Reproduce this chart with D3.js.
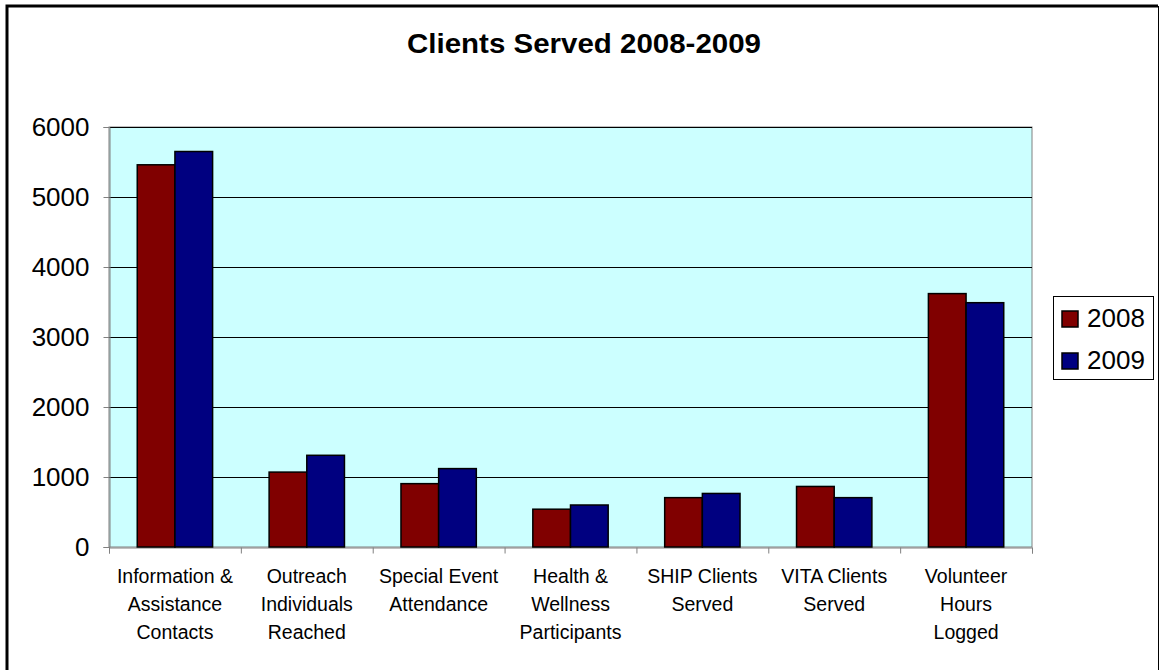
<!DOCTYPE html>
<html>
<head>
<meta charset="utf-8">
<script src="https://cdn.jsdelivr.net/npm/d3@7"></script>
<style>
    body { margin: 0; background: #fff; }
    svg { font-family: "Liberation Sans", Arial, sans-serif; }
</style>
</head>
<body>
<div id="chart"></div>
<script>
// data
const categories = [
    ["Information &", "Assistance", "Contacts"],
    ["Outreach", "Individuals", "Reached"],
    ["Special Event", "Attendance"],
    ["Health &", "Wellness", "Participants"],
    ["SHIP Clients", "Served"],
    ["VITA Clients", "Served"],
    ["Volunteer", "Hours", "Logged"]
];
const series = ["2008", "2009"];
const values2008 = [5460, 1070, 905, 540, 705, 865, 3620];
const values2009 = [5650, 1310, 1120, 600, 765, 705, 3490];
const yTicks = [0, 1000, 2000, 3000, 4000, 5000, 6000];

const colors = {"2008": "#800000", "2009": "#000080"};

const width = 1160, height = 670;
const plot = {left: 109, right: 1032, top: 127, bottom: 547};

const svg = d3.select("#chart").append("svg")
    .attr("width", width)
    .attr("height", height);

// outer frame
svg.append("path")
    .attr("d", "M7,672 L7,6 L1158,6")
    .attr("fill", "none")
    .attr("stroke", "#000")
    .attr("stroke-width", 3);
svg.append("path")
    .attr("d", "M1158.5,6 L1158.5,672")
    .attr("fill", "none")
    .attr("stroke", "#000")
    .attr("stroke-width", 1);

// title
svg.append("text")
    .attr("x", 584)
    .attr("y", 53)
    .attr("text-anchor", "middle")
    .attr("font-size", 27)
    .attr("font-weight", "bold")
    .attr("textLength", 354)
    .attr("lengthAdjust", "spacingAndGlyphs")
    .text("Clients Served 2008-2009");

// scales
const x0 = d3.scaleBand()
    .domain(d3.range(categories.length))
    .range([plot.left, plot.right])
    .padding(0);

const x1 = d3.scaleBand()
    .domain(series)
    .range([0, x0.bandwidth()])
    .paddingInner(0)
    .paddingOuter(0.75);

const y = d3.scaleLinear()
    .domain([0, 6000])
    .range([plot.bottom, plot.top]);

const xEdge = d3.scaleLinear()
    .domain([0, categories.length])
    .range([plot.left, plot.right]);

// plot background
svg.append("rect")
    .attr("x", plot.left)
    .attr("y", plot.top)
    .attr("width", plot.right - plot.left)
    .attr("height", plot.bottom - plot.top)
    .attr("fill", "#CCFFFF")
    .attr("stroke", "#808080")
    .attr("stroke-width", 1);

// gridlines
svg.append("g")
    .selectAll("line")
    .data(yTicks.filter(d => d > 0))
    .enter().append("line")
    .attr("x1", plot.left)
    .attr("x2", plot.right)
    .attr("y1", d => Math.round(y(d)) + 0.5)
    .attr("y2", d => Math.round(y(d)) + 0.5)
    .attr("stroke", "#000")
    .attr("stroke-width", 1);

// y axis
const yAxis = d3.axisLeft(y)
    .tickValues(yTicks)
    .tickSize(6)
    .tickPadding(14)
    .tickFormat(d3.format("d"));

svg.append("g")
    .attr("class", "y-axis")
    .attr("transform", `translate(${plot.left + 0.5},0)`)
    .call(yAxis)
    .call(g => g.select(".domain").attr("stroke", "#808080"))
    .call(g => g.selectAll(".tick line").attr("stroke", "#808080"))
    .call(g => g.selectAll(".tick text")
        .attr("font-size", 26)
        .attr("font-family", "Liberation Sans, Arial, sans-serif")
        .attr("fill", "#000"));

// x axis (ticks at category edges)
const xAxis = d3.axisBottom(xEdge)
    .tickValues(d3.range(categories.length + 1))
    .tickSize(6)
    .tickFormat("");

svg.append("g")
    .attr("class", "x-axis")
    .attr("transform", `translate(0,${plot.bottom + 0.5})`)
    .call(xAxis)
    .call(g => g.select(".domain").attr("stroke", "#808080"))
    .call(g => g.selectAll(".tick line").attr("stroke", "#808080"));

// bars
const groups = svg.append("g")
    .selectAll("g")
    .data(categories.map((c, i) => ({i: i, vals: [values2008[i], values2009[i]]})))
    .enter().append("g")
    .attr("transform", d => `translate(${x0(d.i)},0)`);

groups.selectAll("rect")
    .data(d => series.map((s, k) => ({key: s, value: d.vals[k]})))
    .enter().append("rect")
    .attr("x", d => x1(d.key))
    .attr("y", d => y(d.value))
    .attr("width", x1.bandwidth())
    .attr("height", d => y(0) - y(d.value))
    .attr("fill", d => colors[d.key])
    .attr("stroke", "#000")
    .attr("stroke-width", 1.5);

// category labels
const labels = svg.append("g")
    .selectAll("text")
    .data(categories)
    .enter().append("text")
    .attr("text-anchor", "middle")
    .attr("font-size", 19.5)
    .attr("fill", "#000")
    .attr("transform", (d, i) => `translate(${x0(i) + x0.bandwidth() / 2},583)`);

labels.selectAll("tspan")
    .data(d => d)
    .enter().append("tspan")
    .attr("x", 0)
    .attr("y", (d, i) => i * 28)
    .text(d => d);

// legend
const legend = svg.append("g")
    .attr("class", "legend");

legend.append("rect")
    .attr("x", 1053.5)
    .attr("y", 296.5)
    .attr("width", 100)
    .attr("height", 83)
    .attr("fill", "#fff")
    .attr("stroke", "#000")
    .attr("stroke-width", 1);

series.forEach(function (s, k) {
    legend.append("rect")
        .attr("x", 1062)
        .attr("y", 311 + k * 42)
        .attr("width", 16)
        .attr("height", 16)
        .attr("fill", colors[s])
        .attr("stroke", "#000")
        .attr("stroke-width", 1.5);

    legend.append("text")
        .attr("x", 1087)
        .attr("y", 327 + k * 42)
        .attr("font-size", 26)
        .text(s);
});
</script>
</body>
</html>
